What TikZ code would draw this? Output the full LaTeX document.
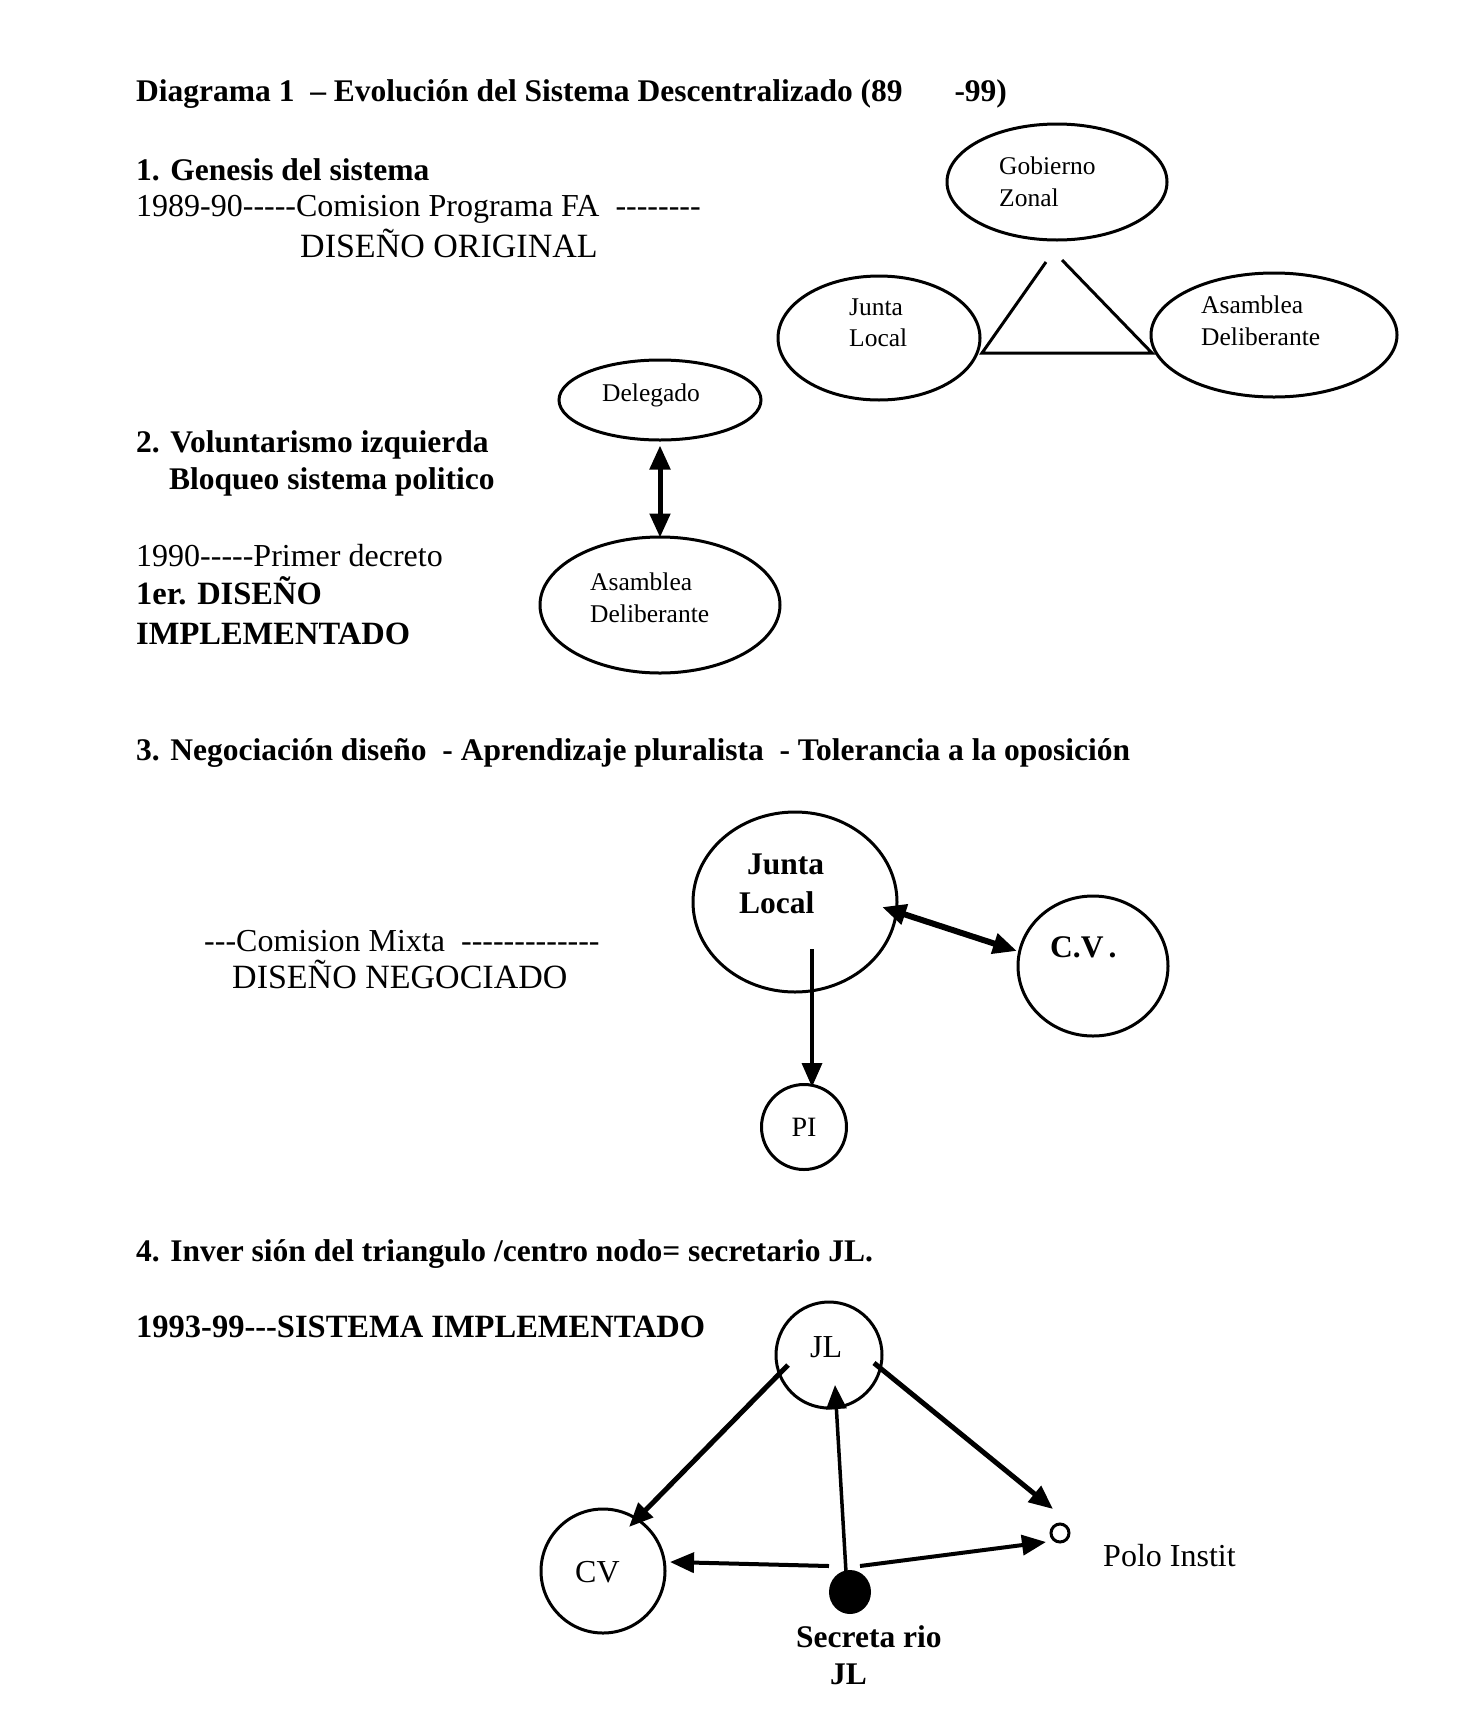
\documentclass[tikz,border=0pt]{standalone}
\usepackage{fontspec}
\setmainfont{Liberation Serif}
\usetikzlibrary{shapes.geometric,arrows.meta,calc}
\begin{document}
\begin{tikzpicture}[x=1pt,y=-1pt,
  lbl/.style={anchor=base west,inner sep=0pt,font=\fontsize{32}{38}\selectfont},
  lblcaps/.style={anchor=base west,inner sep=0pt,font=\fontsize{34}{40}\selectfont},
  lblb/.style={anchor=base west,inner sep=0pt,font=\fontsize{31.5}{38}\selectfont\bfseries},
  lblbcaps/.style={anchor=base west,inner sep=0pt,font=\fontsize{32.5}{38}\selectfont\bfseries},
  ntxt/.style={anchor=base west,inner sep=0pt,font=\fontsize{25.5}{30}\selectfont},
  oval/.style={draw,line width=3pt,ellipse,inner sep=0pt},
  tip/.style={-{Triangle[length=24pt,width=20pt]}},
  tips/.style={{Triangle[length=24pt,width=20pt]}-{Triangle[length=24pt,width=20pt]}}
]
\useasboundingbox[fill=white] (0,0) rectangle (1477,1730);

% Title
\node[lblb] (title) at (136,101) {Diagrama 1 \ -- Evolución del Sistema Descentralizado (89 \hspace{44pt}-99)};

% Section 1
\node[lblb] (s1a) at (136,180) {1. Genesis del sistema};
\node[lbl] (s1b) at (136,216) {1989-90-{}-{}-{}-{}-Comision Programa FA \ -{}-{}-{}-{}-{}-{}-{}-};
\node[lblcaps] (s1c) at (300,257) {DISEÑO ORIGINAL};

\node[oval,minimum width=220pt,minimum height=116pt] (gz) at (1057,182) {};
\node[oval,minimum width=202pt,minimum height=124pt] (jl1) at (879,338) {};
\node[oval,minimum width=246pt,minimum height=124pt] (ad1) at (1274,335) {};
\node[ntxt] (gzt1) at (999,174) {Gobierno};
\node[ntxt] (gzt2) at (999,206) {Zonal};
\node[ntxt] (jlt1) at (849,315) {Junta};
\node[ntxt] (jlt2) at (849,346) {Local};
\node[ntxt] (adt1) at (1201,313) {Asamblea};
\node[ntxt] (adt2) at (1201,345) {Deliberante};

\coordinate (triA) at (1046,262);
\coordinate (triB) at (982,353);
\coordinate (triC) at (1152,353);
\coordinate (triD) at (1062,260);
\draw[line width=3pt,line join=miter] (triA) -- (triB) -- (triC) -- (triD);

% Section 2
\node[lblb] (s2a) at (136,452) {2. Voluntarismo izquierda};
\node[lblb] (s2b) at (169,489) {Bloqueo sistema politico};
\node[lbl] (s2c) at (136,566) {1990-{}-{}-{}-{}-Primer decreto};
\node[lblbcaps] (s2d) at (136,604) {1er. DISEÑO};
\node[lblbcaps] (s2e) at (136,644) {IMPLEMENTADO};

\node[oval,minimum width=202pt,minimum height=80pt] (del) at (660,400) {};
\node[oval,minimum width=240pt,minimum height=136pt] (asm2) at (660,605) {};
\node[ntxt] (delt) at (602,401) {Delegado};
\node[ntxt] (asmt1) at (590,590) {Asamblea};
\node[ntxt] (asmt2) at (590,622) {Deliberante};
\draw[line width=5pt,tips] ($(del.south)+(0,4)$) -- ($(asm2.north)+(0,2)$);

% Section 3
\node[lblb] (s3a) at (136,760) {3. Negociación diseño \ - Aprendizaje pluralista \ - Tolerancia a la oposición};
\node[lbl] (s3b) at (204,951) {-{}-{}-Comision Mixta \ -{}-{}-{}-{}-{}-{}-{}-{}-{}-{}-{}-{}-};
\node[lblcaps] (s3c) at (232,988) {DISEÑO NEGOCIADO};

\node[oval,minimum width=204pt,minimum height=180pt] (jl3) at (795,902) {};
\node[oval,minimum width=150pt,minimum height=140pt] (cv3) at (1093,966) {};
\node[oval,circle,minimum size=85pt,font=\fontsize{28}{34}\selectfont] (pi3) at (804,1127) {PI};
\node[lblb] (jl3t1) at (747,874) {Junta};
\node[lblb] (jl3t2) at (739,913) {Local};
\node[lblb] (cv3t) at (1050,957) {C.V\kern5pt.};

\draw[line width=3.5pt,tip] ($(jl3)+(17,47)$) -- ($(pi3)+(8,-40)$);
\draw[line width=6pt,tips] ($(jl3)+(87,5)$) -- ($(cv3)+(-76,-15)$);

% Section 4
\node[lblb] (s4a) at (136,1261) {4. Inver sión del triangulo /centro nodo= secretario JL.};
\node[lblbcaps] (s4b) at (136,1337) {1993-99-{}-{}-SISTEMA IMPLEMENTADO};

\node[oval,circle,minimum size=106pt] (jl4) at (829,1355) {};
\node[oval,circle,minimum size=124pt] (cv4) at (603,1571) {};
\node[ellipse,fill=black,minimum width=42pt,minimum height=44pt,inner sep=0pt] (sec) at (850,1592) {};
\node[draw,circle,line width=3pt,minimum size=18pt,inner sep=0pt] (polo) at (1060,1533) {};
\node[lbl] (jl4t) at (810,1357) {JL};
\node[lbl] (cv4t) at (575,1582) {CV};
\node[lbl] (polot) at (1103,1566) {Polo Instit};
\node[lblb] (sect1) at (796,1647) {Secreta rio};
\node[lblb] (sect2) at (830,1684) {JL};

\draw[line width=5pt,tip] ($(jl4)+(-41,10)$) -- ($(cv4)+(26,-44)$);
\draw[line width=5pt,tip] ($(jl4)+(45,8)$) -- ($(polo)+(-7,-24)$);
\draw[line width=3.5pt,tip] ($(sec)+(-4,-20)$) -- ($(jl4)+(6,30)$);
\draw[line width=4pt,tip] ($(sec)+(-21,-26)$) -- ($(cv4)+(67,-9)$);
\draw[line width=4pt,tip] ($(sec)+(10,-26)$) -- ($(polo)+(-14,9)$);
\end{tikzpicture}
\end{document}
